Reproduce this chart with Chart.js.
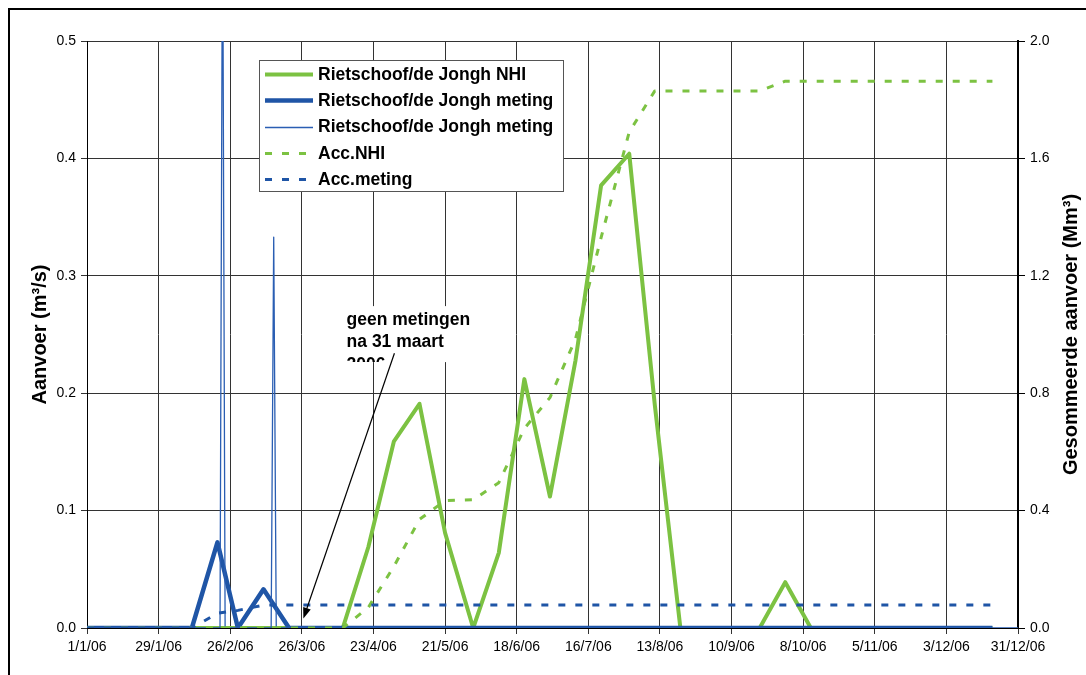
<!DOCTYPE html>
<html>
<head>
<meta charset="utf-8">
<script src="https://cdn.jsdelivr.net/npm/chart.js@4.4.0/dist/chart.umd.min.js"></script>
<style>
  html, body { margin: 0; padding: 0; background: #fff; overflow: hidden; width: 1086px; height: 675px; }
  #frame { position: absolute; left: 8px; top: 8px; width: 1300px; height: 900px;
           border-left: 2px solid #000; border-top: 2px solid #000; }
  #c { position: absolute; left: 0; top: 0; }
</style>
</head>
<body>
<div id="frame"></div>
<canvas id="c" width="1086" height="675"></canvas>
<script>
// Dekad dates (1st, 11th, 21st of every month) for the 10-day series
const dekadDates = [
  '2006-01-01','2006-01-11','2006-01-21','2006-02-01','2006-02-11','2006-02-21',
  '2006-03-01','2006-03-11','2006-03-21','2006-04-01','2006-04-11','2006-04-21',
  '2006-05-01','2006-05-11','2006-05-21','2006-06-01','2006-06-11','2006-06-21',
  '2006-07-01','2006-07-11','2006-07-21','2006-08-01','2006-08-11','2006-08-21',
  '2006-09-01','2006-09-11','2006-09-21','2006-10-01','2006-10-11','2006-10-21',
  '2006-11-01','2006-11-11','2006-11-21','2006-12-01','2006-12-11','2006-12-21'
];

// Aanvoer Rietschoof/de Jongh, NHI model (m3/s)
const nhiFlow = [
  0, 0, 0, 0, 0, 0,
  0, 0, 0, 0, 0, 0.069,
  0.159, 0.191, 0.081, 0, 0.064, 0.212,
  0.112, 0.228, 0.377, 0.404, 0.19, 0,
  0, 0, 0, 0.039, 0, 0,
  0, 0, 0, 0, 0, 0
];

// Aanvoer Rietschoof/de Jongh, meting per decade (m3/s)
const metingFlow = [
  0, 0, 0, 0, 0, 0.073,
  0, 0.033, 0, 0, 0, 0,
  0, 0, 0, 0, 0, 0,
  0, 0, 0, 0, 0, 0,
  0, 0, 0, 0, 0, 0,
  0, 0, 0, 0, 0, 0
];

// Gesommeerde aanvoer NHI (Mm3)
const accNhi = [
  0, 0, 0, 0, 0, 0,
  0, 0, 0, 0, 0, 0.07,
  0.21, 0.37, 0.434, 0.437, 0.495, 0.68,
  0.785, 0.985, 1.33, 1.69, 1.83, 1.83,
  1.83, 1.83, 1.83, 1.863, 1.863, 1.863,
  1.863, 1.863, 1.863, 1.863, 1.863, 1.863
];

// Gesommeerde aanvoer meting (Mm3)
const accMeting = [
  0, 0, 0, 0, 0, 0.05,
  0.06, 0.078, 0.078, 0.078, 0.078, 0.078,
  0.078, 0.078, 0.078, 0.078, 0.078, 0.078,
  0.078, 0.078, 0.078, 0.078, 0.078, 0.078,
  0.078, 0.078, 0.078, 0.078, 0.078, 0.078,
  0.078, 0.078, 0.078, 0.078, 0.078, 0.078
];

// Daily measured flow (m3/s); only the days around the two peaks differ from zero
const dailyDates = ['2006-01-01','2006-02-22','2006-02-23','2006-02-24',
                    '2006-03-14','2006-03-15','2006-03-16','2006-12-31'];
const dailyFlow  = [0, 0, 0.63, 0, 0, 0.333, 0, 0];

// Date axis ticks (every 4 weeks)
const xTickDays   = [0, 28, 56, 84, 112, 140, 168, 196, 224, 252, 280, 308, 336, 364];
const xTickLabels = ['1/1/06','29/1/06','26/2/06','26/3/06','23/4/06','21/5/06','18/6/06',
                     '16/7/06','13/8/06','10/9/06','8/10/06','5/11/06','3/12/06','31/12/06'];

const seriesLabels = ['Rietschoof/de Jongh NHI', 'Rietschoof/de Jongh meting',
                      'Rietschoof/de Jongh meting', 'Acc.NHI', 'Acc.meting'];
const noteLines = ['geen metingen', 'na 31 maart', '2006'];

const FONT = "'Liberation Sans', Arial, Helvetica, sans-serif";
const GREEN = '#7CC242';
const BLUE = '#1F55A6';
const BLUE_THIN = '#2A5EB3';
const GRID = '#333333';

const dayOf = s => (Date.UTC(+s.slice(0, 4), +s.slice(5, 7) - 1, +s.slice(8, 10)) - Date.UTC(2006, 0, 1)) / 864e5;
const pts = (dates, vals) => dates.map((d, i) => ({ x: dayOf(d), y: vals[i] }));

// Legend box drawn inside the plot area
const boxLegend = {
  id: 'boxLegend',
  afterDraw(chart) {
    const ctx = chart.ctx;
    const L = 259, T = 60, R = 563, B = 191;
    ctx.save();
    ctx.fillStyle = '#fff';
    ctx.fillRect(L, T, R - L, B - T);
    ctx.strokeStyle = '#555';
    ctx.lineWidth = 1;
    ctx.strokeRect(L + 0.5, T + 0.5, R - L, B - T);
    chart.data.datasets.forEach((ds, row) => {
      const y = 74 + row * 26.3;
      ctx.beginPath();
      ctx.strokeStyle = ds.borderColor;
      ctx.lineWidth = ds.borderWidth;
      ctx.setLineDash(ds.borderDash || []);
      ctx.moveTo(265, Math.round(y) + 0.5);
      ctx.lineTo(313, Math.round(y) + 0.5);
      ctx.stroke();
      ctx.setLineDash([]);
      ctx.fillStyle = '#000';
      ctx.font = 'bold 17.5px ' + FONT;
      ctx.textBaseline = 'middle';
      ctx.textAlign = 'left';
      ctx.fillText(ds.label, 318, y + 1);
    });
    ctx.restore();
  }
};

// Axis titles (rotated) and the "geen metingen" note with its arrow
const extras = {
  id: 'extras',
  afterDraw(chart) {
    const ctx = chart.ctx;
    const xs = chart.scales.x, ys = chart.scales.y;
    const area = chart.chartArea;
    const midY = (area.top + area.bottom) / 2;
    ctx.save();
    ctx.fillStyle = '#000';
    ctx.font = 'bold 20px ' + FONT;
    ctx.textAlign = 'center';
    ctx.textBaseline = 'middle';
    ctx.save();
    ctx.translate(40, midY);
    ctx.rotate(-Math.PI / 2);
    ctx.fillText('Aanvoer (m³/s)', 0, 0);
    ctx.restore();
    ctx.save();
    ctx.translate(1071, midY);
    ctx.rotate(-Math.PI / 2);
    ctx.fillText('Gesommeerde aanvoer (Mm³)', 0, 0);
    ctx.restore();

    // note text box
    const tx = xs.getPixelForValue(101.5);
    const ty = ys.getPixelForValue(0.258);
    const top = ty - 19, bottom = ty + 37;
    ctx.fillStyle = '#fff';
    ctx.fillRect(tx - 6, top, 134, bottom - top);
    ctx.save();
    ctx.beginPath();
    ctx.rect(tx - 6, top, 134, bottom - top);
    ctx.clip();
    ctx.fillStyle = '#000';
    ctx.font = 'bold 17.5px ' + FONT;
    ctx.textAlign = 'left';
    ctx.textBaseline = 'alphabetic';
    noteLines.forEach((t, i) => ctx.fillText(t, tx, ty + i * 22.3));
    ctx.restore();

    // arrow
    const ax0 = xs.getPixelForValue(120.2), ay0 = ys.getPixelForValue(0.234);
    const ax1 = xs.getPixelForValue(84.6), ay1 = ys.getPixelForValue(0.008);
    const ang = Math.atan2(ay1 - ay0, ax1 - ax0);
    const hl = 11, hw = 4;
    ctx.strokeStyle = '#000';
    ctx.lineWidth = 1.2;
    ctx.beginPath();
    ctx.moveTo(ax0, ay0);
    ctx.lineTo(ax1 - Math.cos(ang) * hl * 0.8, ay1 - Math.sin(ang) * hl * 0.8);
    ctx.stroke();
    ctx.fillStyle = '#000';
    ctx.beginPath();
    ctx.moveTo(ax1, ay1);
    ctx.lineTo(ax1 - Math.cos(ang) * hl + Math.sin(ang) * hw, ay1 - Math.sin(ang) * hl - Math.cos(ang) * hw);
    ctx.lineTo(ax1 - Math.cos(ang) * hl - Math.sin(ang) * hw, ay1 - Math.sin(ang) * hl + Math.cos(ang) * hw);
    ctx.closePath();
    ctx.fill();
    ctx.restore();
  }
};

const tickFont = { family: FONT, size: 14 };

new Chart(document.getElementById('c'), {
  type: 'line',
  data: {
    datasets: [
      { label: seriesLabels[0], data: pts(dekadDates, nhiFlow), yAxisID: 'y',
        borderColor: GREEN, borderWidth: 4, order: 5 },
      { label: seriesLabels[1], data: pts(dekadDates, metingFlow), yAxisID: 'y',
        borderColor: BLUE, borderWidth: 4.5, order: 4 },
      { label: seriesLabels[2], data: pts(dailyDates, dailyFlow), yAxisID: 'y',
        borderColor: BLUE_THIN, borderWidth: 1.3, order: 3 },
      { label: seriesLabels[3], data: pts(dekadDates, accNhi), yAxisID: 'y2',
        borderColor: GREEN, borderWidth: 3, borderDash: [7, 10], order: 2 },
      { label: seriesLabels[4], data: pts(dekadDates, accMeting), yAxisID: 'y2',
        borderColor: BLUE, borderWidth: 3, borderDash: [7, 10], order: 1 }
    ]
  },
  options: {
    responsive: false,
    animation: false,
    devicePixelRatio: 1,
    layout: { padding: { top: 41, left: 0, right: 0, bottom: 0 } },
    elements: {
      point: { radius: 0, hoverRadius: 0 },
      line: { tension: 0, fill: false, borderJoinStyle: 'round', borderCapStyle: 'butt' }
    },
    plugins: { legend: { display: false }, tooltip: { enabled: false } },
    scales: {
      x: {
        type: 'linear', min: 0, max: 364,
        afterBuildTicks: s => { s.ticks = xTickDays.map(v => ({ value: v })); },
        afterFit: s => { s.height = 47; },
        ticks: { callback: (v, i) => xTickLabels[i], font: tickFont, color: '#000',
                 maxRotation: 0, autoSkip: false, padding: 5 },
        grid: { color: GRID, lineWidth: 1, tickLength: 6 },
        border: { color: '#000', width: 1 }
      },
      y: {
        position: 'left', min: 0, max: 0.5,
        afterFit: s => { s.width = 87; },
        ticks: { stepSize: 0.1, callback: v => v.toFixed(1), font: tickFont, color: '#000', padding: 5 },
        grid: { color: GRID, lineWidth: 1, tickLength: 6 },
        border: { color: '#000', width: 1 }
      },
      y2: {
        position: 'right', min: 0, max: 2,
        afterFit: s => { s.width = 68; },
        ticks: { stepSize: 0.4, callback: v => v.toFixed(1), font: tickFont, color: '#000', padding: 5 },
        grid: { drawOnChartArea: false, color: '#000', lineWidth: 1, tickLength: 7 },
        border: { color: '#000', width: 2 }
      }
    }
  },
  plugins: [boxLegend, extras]
});
</script>
</body>
</html>
